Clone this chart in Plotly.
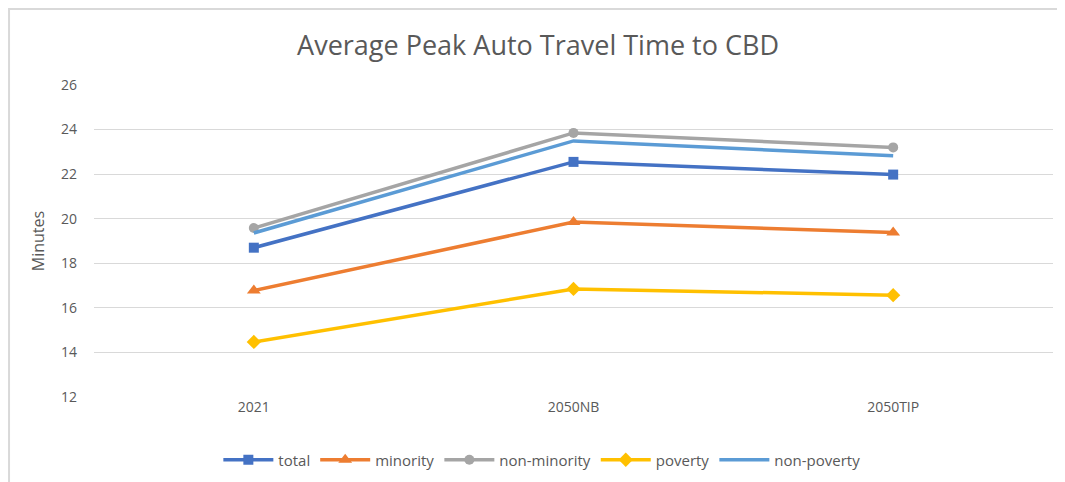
import plotly.graph_objects as go

# data
scenarios = ["2021", "2050NB", "2050TIP"]
total = [18.7, 22.55, 21.98]
minority = [16.78, 19.85, 19.38]
non_minority = [19.58, 23.85, 23.2]
poverty = [14.47, 16.85, 16.57]
non_poverty = [19.36, 23.49, 22.82]

series = [
    ("total", total, "#4472C4", "square", 10),
    ("minority", minority, "#ED7D31", "triangle-up", 12),
    ("non-minority", non_minority, "#A5A5A5", "circle", 10),
    ("poverty", poverty, "#FFC000", "diamond", 11),
    ("non-poverty", non_poverty, "#5B9BD5", None, 0),
]

fig = go.Figure()
for name, vals, color, symbol, size in series:
    fig.add_trace(
        go.Scatter(
            name=name,
            x=scenarios,
            y=vals,
            mode="lines+markers" if symbol else "lines",
            line=dict(color=color, width=3.5),
            marker=dict(symbol=symbol or "circle", size=size, color=color),
        )
    )

# light outer chart border (left and top edges visible)
fig.add_shape(
    type="path",
    xref="paper",
    yref="paper",
    path="M -0.0886,-0.5 L -0.0886,1.2436 L 1.05,1.2436",
    line=dict(color="#d9d9d9", width=2),
)

fig.update_layout(
    width=1065,
    height=482,
    margin=dict(l=86, r=20, t=77, b=93, autoexpand=False),
    paper_bgcolor="white",
    plot_bgcolor="white",
    font=dict(family="Open Sans, Liberation Sans, sans-serif", color="#595959"),
    title=dict(
        text="Average Peak Auto Travel Time to CBD",
        x=0.4977,
        xanchor="center",
        y=0.923,
        yanchor="middle",
        font=dict(size=27, color="#595959"),
    ),
    legend=dict(
        orientation="h",
        x=0.467,
        xanchor="center",
        y=-0.202,
        yanchor="middle",
        font=dict(size=15, color="#595959"),
        itemwidth=50,
    ),
    showlegend=True,
)
fig.update_xaxes(
    range=[-0.5, 2.5],
    showgrid=False,
    showline=False,
    zeroline=False,
    tickfont=dict(size=14, color="#595959"),
    ticks="",
    automargin=False,
)
fig.update_yaxes(
    range=[12, 26],
    dtick=2,
    showgrid=True,
    gridcolor="#d9d9d9",
    gridwidth=1,
    zeroline=False,
    showline=False,
    tickfont=dict(size=14, color="#595959"),
    title=dict(text="Minutes", font=dict(size=16, color="#595959"), standoff=12),
    ticks="",
    ticklabelstandoff=16,
    automargin=False,
)

fig.write_html("out.html")
